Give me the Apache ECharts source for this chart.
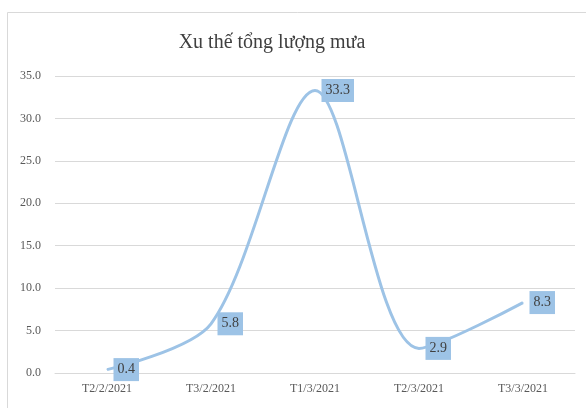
<!DOCTYPE html>
<html><head><meta charset="utf-8">
<script src="https://cdn.jsdelivr.net/npm/echarts@6/dist/echarts.min.js"></script>
<style>html,body{margin:0;padding:0;background:#fff}#c{width:586px;height:408px}</style>
</head><body><div id="c"></div>
<script>
var title = 'Xu thế tổng lượng mưa';
var categories = ['T2/2/2021','T3/2/2021','T1/3/2021','T2/3/2021','T3/3/2021'];
var rainfall = [0.4, 5.8, 33.3, 2.9, 8.3];
var yTicks = [0, 5, 10, 15, 20, 25, 30, 35];

var font = '"Liberation Serif","Times New Roman",serif';
var chart = echarts.init(document.getElementById('c'), null, {renderer:'canvas'});
chart.setOption({
  animation:false,
  backgroundColor:'#fff',
  graphic:[{type:'rect',shape:{x:7.5,y:12.5,width:600,height:420},style:{fill:'none',stroke:'#d9d9d9',lineWidth:1},z:-1}],
  title:{text:title,left:267,top:28,textAlign:'center',textStyle:{fontFamily:font,fontWeight:'normal',fontSize:20,color:'#404040'}},
  grid:{left:55,right:11,top:76,bottom:35},
  xAxis:{type:'category',data:categories,boundaryGap:true,
    axisLine:{show:true,lineStyle:{color:'#d9d9d9'}},axisTick:{show:false},
    axisLabel:{fontFamily:font,fontSize:12,color:'#595959',margin:10}},
  yAxis:{type:'value',min:yTicks[0],max:yTicks[yTicks.length-1],interval:5,
    axisLine:{show:false},axisTick:{show:false},
    splitLine:{lineStyle:{color:'#d9d9d9',width:1}},
    axisLabel:{fontFamily:font,fontSize:12,color:'#595959',margin:14,formatter:function(v){return v.toFixed(1);}}},
  series:[{type:'line',data:rainfall,smooth:0.3,symbol:'circle',symbolSize:1,showSymbol:true,
    itemStyle:{color:'#9DC3E6'},
    lineStyle:{color:'#9DC3E6',width:3},
    label:{show:true,position:'right',distance:6,fontFamily:font,fontSize:14,color:'#404040',
      backgroundColor:'#9DC3E6',padding:[5,4,4,4],formatter:function(p){return p.value.toFixed(1);}}}]
});
</script></body></html>
